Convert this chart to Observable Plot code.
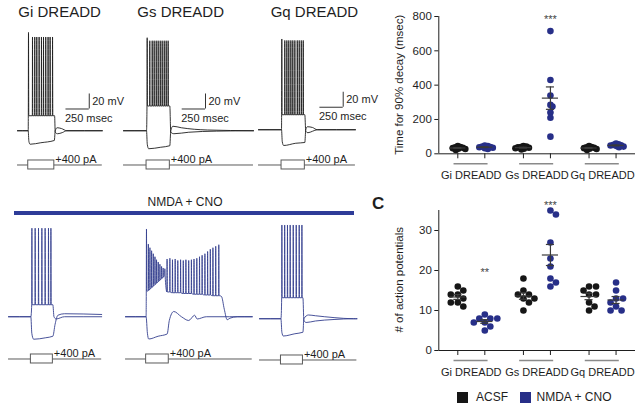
<!DOCTYPE html>
<html><head><meta charset="utf-8">
<script src="https://cdn.jsdelivr.net/npm/d3@7"></script>
<script src="https://cdn.jsdelivr.net/npm/@observablehq/plot@0.6"></script>
<style>
body{margin:0;background:#fff;font-family:"Liberation Sans",Arial,sans-serif;}
#root{position:relative;width:640px;height:406px;overflow:hidden;background:#fff;}
.pp{position:absolute;}
.lbl{position:absolute;white-space:nowrap;color:#1e1e1e;}
</style></head><body><div id="root"></div>
<script>
// ================= DATA =================
const dreadds = ["Gi DREADD", "Gs DREADD", "Gq DREADD"];
const conditions = ["ACSF", "NMDA + CNO"];
const stepCurrent = 400;        // pA
const scaleMv = 20, scaleMs = 250;

// B: time for 90% decay (msec), per DREADD
const decayACSF = [[22, 28, 30, 33, 35, 38, 40, 45], [25, 30, 32, 35, 38, 40, 42, 45], [22, 28, 30, 33, 35, 38, 40, 45]];
const decayNMDA = [[28, 32, 35, 38, 40, 42, 45, 48], [715, 430, 340, 285, 275, 240, 210, 100], [38, 42, 45, 48, 50, 52, 55, 60]];
const decayTicks = [0, 200, 400, 600, 800];
const decaySig = [{d: 1, c: 1, text: "***", v: 800}];

// C: number of action potentials
const apACSF = [[16, 15, 14, 14, 13, 12, 12, 11], [18, 15, 14, 14, 13, 13, 12, 10], [16, 16, 15, 14, 14, 12, 11, 10]];
const apNMDA = [[9, 8, 8, 8, 7, 7, 6, 5], [35, 34, 27, 23, 21, 18, 17, 16], [17, 15, 13, 13, 12, 11, 10, 10]];
const apTicks = [0, 10, 20, 30];
const apSig = [{d: 0, c: 1, text: "**", v: 20.3}, {d: 1, c: 1, text: "***", v: 37}];

// Traces (ms, mV). Resting potential:
const restMv = -70;
// ACSF row
const giAcsfStep = [115, 395], giAcsfEnd = 910;
const giAcsfSpikeT = [118, 161, 185, 207, 232, 257, 279, 303, 328, 350, 376];
const giAcsfSpikeV = [61, 55, 55, 55, 55, 55, 55, 55, 55, 55, 55];
const giAcsfTrough = -50;
const giAcsfTail = [[398, -50], [405, -72], [430, -74], [480, -72.5], [530, -70], [910, -70]];
const giAcsfHyp = [[0, -70], [115, -70], [122, -84], [135, -88], [250, -86], [395, -83], [405, -70], [425, -66], [470, -67], [530, -70], [910, -70]];

const gsAcsfStep = [247, 497], gsAcsfEnd = 1395;
const gsAcsfSpikeT = [254, 282, 308, 329, 351, 372, 394, 415, 437, 458, 479];
const gsAcsfSpikeV = [54, 50, 50, 50, 50, 50, 50, 50, 50, 50, 50];
const gsAcsfTrough = -37;
const gsAcsfTail = [[497, -37], [507, -72], [540, -74], [700, -72], [1000, -70.5], [1395, -70]];
const gsAcsfHyp = [[0, -70], [247, -70], [255, -88], [270, -94], [400, -92], [497, -90], [507, -70], [530, -64], [620, -66], [900, -69], [1395, -70]];

const gqAcsfStep = [247, 497], gqAcsfEnd = 1040;
const gqAcsfSpikeT = [250, 282, 304, 325, 347, 368, 390, 416, 437, 459, 480];
const gqAcsfSpikeV = [51, 49, 49, 49, 49, 49, 49, 49, 49, 49, 49];
const gqAcsfTrough = -50;
const gqAcsfTail = [[497, -50], [507, -72], [530, -74], [580, -72], [630, -70], [1040, -70]];
const gqAcsfHyp = [[0, -70], [247, -70], [255, -86], [270, -91], [400, -88], [497, -87], [507, -70], [525, -66], [580, -67], [630, -70], [1040, -70]];

// NMDA + CNO row
const giNmdaStep = [240, 476], giNmdaEnd = 1000;
const giNmdaSpikeT = [251, 286, 322, 358, 393, 429, 455];
const giNmdaSpikeV = [48, 48, 48, 48, 48, 48, 48];
const giNmdaTrough = -54;
const giNmdaTail = [[476, -54], [488, -70], [510, -73], [600, -70], [1000, -70]];
const giNmdaHyp = [[0, -70], [240, -70], [250, -92], [270, -100], [400, -98], [476, -96], [500, -80], [530, -68], [600, -66], [1000, -67]];

const gsNmdaStep = [221, 464], gsNmdaEnd = 1360;
const gsNmdaSpikeT = [225, 245, 262, 280, 298, 316, 333, 351, 369, 387, 404, 422, 446, 476, 504, 533, 561, 591, 620, 648, 678, 707, 735, 765, 794, 822, 852, 881, 910, 938, 968, 1001];
const gsNmdaSpikeV = [47, 27, 22, 18, 14, 10, 6, 3, 0, -3, -5, -6, 7, 8, 6, 7, 5, 6, 5, 6, 5, 6, 7, 8, 10, 12, 14, 17, 20, 22, 24, 26];
const gsNmdaTrough = [-36, -35, -33, -31, -29, -27, -25, -23, -21, -19, -17, -15, -37, -37, -38, -38, -38, -38, -39, -39, -39, -39, -40, -40, -40, -40, -41, -41, -41, -42, -42, -42];
const gsNmdaTail = [[1010, -42], [1030, -43], [1060, -60], [1091, -74], [1120, -72], [1200, -70], [1360, -70]];
const gsNmdaHyp = [[0, -70], [221, -70], [235, -92], [249, -99.7], [350, -96], [447, -93], [470, -75], [518, -63], [600, -70], [678, -75], [742, -68], [768, -73], [867, -70], [1360, -70]];

const gqNmdaStep = [230, 466], gqNmdaEnd = 1045;
const gqNmdaSpikeT = [240, 270, 300, 329, 362, 394, 426, 455];
const gqNmdaSpikeV = [55, 55, 55, 55, 55, 55, 55, 55];
const gqNmdaTrough = -42;
const gqNmdaTail = [[466, -42], [476, -72], [500, -75], [600, -73], [800, -71], [1010, -70], [1045, -70]];
const gqNmdaHyp = [[0, -70], [230, -70], [240, -88], [255, -93], [380, -90], [466, -88], [476, -70], [525, -65], [600, -66], [800, -68.5], [1010, -70], [1045, -70]];

// ================= LAYOUT / STYLE =================
const FONT = "'Liberation Sans', Arial, sans-serif";
const INK = "#1e1e1e";
const BLUE_TRACE = "#34408f";
const BLUE_DOT = "#272f88";
const BLUE_BAR = "#2e3c98";
const root = document.getElementById("root");
const PX_MS = 23.3 / 250;  // px per ms
const PX_MV = 0.75;        // px per mV
const V_DOM = [-105, 65];

function place(node, left, top) {
  const d = document.createElement("div");
  d.className = "pp"; d.style.left = left + "px"; d.style.top = top + "px";
  d.appendChild(node); root.appendChild(d);
}
function label(text, left, top, size, extra = "") {
  const d = document.createElement("div");
  d.className = "lbl"; d.textContent = text;
  d.style.cssText += `left:${left}px;top:${top}px;font-size:${size}px;line-height:${size}px;${extra}`;
  root.appendChild(d); return d;
}
function vLabel(text, cx, cy, size) {
  const w = 200;
  label(text, cx - w / 2, cy - size / 2, size, `width:${w}px;text-align:center;transform:rotate(-90deg);transform-origin:50% 50%;`);
}
function depTrace(stepStart, spikeT, spikeV, trough, tail) {
  const tr = i => Array.isArray(trough) ? trough[i] : trough;
  const pts = [[0, restMv], [stepStart, restMv]];
  spikeT.forEach((t, i) => pts.push([t - 2, tr(i)], [t, spikeV[i]], [t + 3, tr(i)]));
  return pts.concat(tail);
}
const svgStyle = `font-family:${FONT};font-size:11px;overflow:visible;background:transparent;color:${INK};`;

function tracePanel(p) {
  const w = p.tEnd * PX_MS;
  const H = (V_DOM[1] - V_DOM[0]) * PX_MV;
  const marks = [
    Plot.line(p.hyp, {x: d => d[0], y: d => d[1], stroke: p.color, strokeWidth: 0.9, curve: "monotone-x"}),
    Plot.line(p.dep, {x: d => d[0], y: d => d[1], stroke: p.color, strokeWidth: 0.9, curve: "monotone-x"})
  ];
  if (p.bar) {
    const b = [p.bar];
    marks.push(
      Plot.ruleX(b, {x: "t", y1: "v", y2: d => d.v + scaleMv, stroke: "#333", strokeWidth: 1}),
      Plot.ruleY(b, {y: "v", x1: d => d.t - scaleMs, x2: "t", stroke: "#333", strokeWidth: 1}),
      Plot.text(b, {x: "t", y: d => d.v + scaleMv / 2, text: () => `${scaleMv} mV`, textAnchor: "start", dx: 3, fontSize: 11, fill: INK}),
      Plot.text(b, {x: d => d.t - scaleMs, y: "v", text: () => `${scaleMs} msec`, textAnchor: "start", dx: -1, dy: 9, fontSize: 11, fill: INK})
    );
  }
  const plot = Plot.plot({
    width: w + 45, height: H,
    marginLeft: 0, marginRight: 45, marginTop: 0, marginBottom: 0,
    x: {domain: [0, p.tEnd], range: [0, w], axis: null},
    y: {domain: V_DOM, range: [H, 0], axis: null},
    style: svgStyle,
    marks
  });
  const yRest = H - (restMv - V_DOM[0]) * PX_MV;
  place(plot, p.left, p.base - yRest);

  // current step schematic
  const cur = Plot.plot({
    width: w + 45, height: 26,
    marginLeft: 0, marginRight: 45, marginTop: 15, marginBottom: 2,
    x: {domain: [0, p.tEnd], range: [0, w], axis: null},
    y: {domain: [-1, 1], axis: null},
    style: svgStyle,
    marks: [
      Plot.ruleY([0], {x1: 0, x2: p.tEnd, stroke: "#5a5a5a", strokeWidth: 1}),
      Plot.rect([p.step], {x1: d => d[0], x2: d => d[1], y1: -1, y2: 1, fill: "white", stroke: "#5a5a5a", strokeWidth: 1}),
      Plot.text([p.step], {x: d => d[1], y: 0, text: () => `+${stepCurrent} pA`, textAnchor: "start", lineAnchor: "bottom", dx: 1, dy: -1.5, fontSize: 11, fill: INK})
    ]
  });
  place(cur, p.left, p.currentY - 19.5);
}

const tracePanels = [
  {left: 16.7, base: 130, currentY: 164, tEnd: giAcsfEnd, step: giAcsfStep, color: INK,
   dep: depTrace(giAcsfStep[0], giAcsfSpikeT, giAcsfSpikeV, giAcsfTrough, giAcsfTail), hyp: giAcsfHyp, bar: {t: 770, v: -41}},
  {left: 123, base: 130, currentY: 164, tEnd: gsAcsfEnd, step: gsAcsfStep, color: INK,
   dep: depTrace(gsAcsfStep[0], gsAcsfSpikeT, gsAcsfSpikeV, gsAcsfTrough, gsAcsfTail), hyp: gsAcsfHyp, bar: {t: 880, v: -41}},
  {left: 258, base: 129, currentY: 164, tEnd: gqAcsfEnd, step: gqAcsfStep, color: INK,
   dep: depTrace(gqAcsfStep[0], gqAcsfSpikeT, gqAcsfSpikeV, gqAcsfTrough, gqAcsfTail), hyp: gqAcsfHyp, bar: {t: 909, v: -40}},
  {left: 8.3, base: 316.7, currentY: 358, tEnd: giNmdaEnd, step: giNmdaStep, color: BLUE_TRACE,
   dep: depTrace(giNmdaStep[0], giNmdaSpikeT, giNmdaSpikeV, giNmdaTrough, giNmdaTail), hyp: giNmdaHyp},
  {left: 125, base: 316, currentY: 358, tEnd: gsNmdaEnd, step: gsNmdaStep, color: BLUE_TRACE,
   dep: depTrace(gsNmdaStep[0], gsNmdaSpikeT, gsNmdaSpikeV, gsNmdaTrough, gsNmdaTail), hyp: gsNmdaHyp},
  {left: 259.3, base: 318.3, currentY: 359, tEnd: gqNmdaEnd, step: gqNmdaStep, color: BLUE_TRACE,
   dep: depTrace(gqNmdaStep[0], gqNmdaSpikeT, gqNmdaSpikeV, gqNmdaTrough, gqNmdaTail), hyp: gqNmdaHyp}
];
tracePanels.forEach(tracePanel);

// ---- scatter panels ----
const pairGap = 2.43;
const X_DOM = [-0.704, 6.58];
const catX = (d, c) => d * pairGap + c;

function swarmOffsets(pys, dist) {
  const order = pys.map((_, i) => i).sort((a, b) => pys[a] - pys[b]);
  const placed = [], off = new Array(pys.length).fill(0);
  for (const i of order) {
    for (let k = 0; k < 400; k++) {
      const o = (k % 2 === 1 ? 1 : -1) * Math.ceil(k / 2) * 0.5;
      if (placed.every(p => (p.x - o) ** 2 + (p.y - pys[i]) ** 2 >= dist * dist)) {
        off[i] = o; placed.push({x: o, y: pys[i]}); break;
      }
    }
  }
  return off;
}

function scatterPanel(cfg) {
  const W = 250, ML = 48.3, MR = 5;
  const {MT, FH, MB, yMax} = cfg;
  const H = MT + FH + MB;
  const pxPerU = (W - ML - MR) / (X_DOM[1] - X_DOM[0]);
  const yPx = v => MT + FH * (1 - v / yMax);
  const pts = [], stats = [];
  dreadds.forEach((name, d) => {
    [cfg.acsf[d], cfg.nmda[d]].forEach((vals, c) => {
      const offs = swarmOffsets(vals.map(yPx), cfg.collide);
      vals.forEach((v, i) => pts.push({x: catX(d, c) + offs[i] / pxPerU, v, c}));
      const m = d3.mean(vals), s = d3.deviation(vals) / Math.sqrt(vals.length);
      stats.push({x: catX(d, c), m, lo: m - s, hi: m + s});
    });
  });
  const groups = dreadds.map((name, d) => ({name, a: catX(d, 0), b: catX(d, 1)}));
  const tickXs = [];
  dreadds.forEach((_, d) => conditions.forEach((_, c) => tickXs.push(catX(d, c))));
  const sig = cfg.sig.map(s => ({...s, x: catX(s.d, s.c)}));
  const plot = Plot.plot({
    width: W, height: H, marginLeft: ML, marginRight: MR, marginTop: MT, marginBottom: MB,
    x: {domain: X_DOM}, y: {domain: [0, yMax], label: null},
    style: svgStyle,
    marks: [
      Plot.ruleX([X_DOM[0]], {y1: 0, y2: yMax, stroke: INK, strokeWidth: 1}),
      Plot.ruleY([0], {x1: X_DOM[0], x2: X_DOM[1], stroke: INK, strokeWidth: 1}),
      Plot.axisY({ticks: cfg.ticks, tickSize: 4, tickPadding: 3, fontSize: 11.5, label: null, stroke: INK, fill: INK}),
      Plot.axisX({ticks: tickXs, tickSize: 5, tickFormat: () => "", label: null, stroke: INK}),
      Plot.ruleY(groups, {y: 0, x1: g => g.a - 0.14, x2: g => g.b + 0.12, dy: 10, stroke: "#8a8a8a", strokeWidth: 1.4}),
      Plot.text(groups, {x: g => (g.a + g.b) / 2, y: 0, text: "name", dy: 21.7, fontSize: 11, fill: INK}),
      Plot.dot(pts, {x: "x", y: "v", r: 3.3, fill: p => p.c ? BLUE_DOT : "#161616", stroke: "none"}),
      Plot.ruleY(stats, {y: "m", x1: s => s.x - 0.3, x2: s => s.x + 0.3, stroke: "#3a3a3a", strokeWidth: 1.2}),
      Plot.ruleX(stats, {x: "x", y1: "lo", y2: "hi", stroke: "#3a3a3a", strokeWidth: 1.2}),
      Plot.ruleY(stats, {y: "lo", x1: s => s.x - 0.15, x2: s => s.x + 0.15, stroke: "#3a3a3a", strokeWidth: 1.2}),
      Plot.ruleY(stats, {y: "hi", x1: s => s.x - 0.15, x2: s => s.x + 0.15, stroke: "#3a3a3a", strokeWidth: 1.2}),
      Plot.text(sig, {x: "x", y: "v", text: "text", dy: 3, fontSize: 11, fill: "#444"})
    ]
  });
  place(plot, cfg.left, cfg.top);
  vLabel(cfg.label, 399.5, cfg.top + MT + FH / 2, 11.5);
}

scatterPanel({left: 390, top: 0, MT: 16, FH: 137.3, MB: 30.7, yMax: 800, ticks: decayTicks,
  acsf: decayACSF, nmda: decayNMDA, sig: decaySig, collide: 2.6, label: "Time for 90% decay (msec)"});
scatterPanel({left: 390, top: 190, MT: 20, FH: 140, MB: 30, yMax: 35, ticks: apTicks,
  acsf: apACSF, nmda: apNMDA, sig: apSig, collide: 6.6, label: "# of action potentials"});

// ---- text annotations ----
label(dreadds[0], 18.3, 4, 15);
label(dreadds[1], 137.3, 4, 15);
label(dreadds[2], 270.7, 4, 15);
label(conditions[1], 0, 195.8, 12, "width:370px;text-align:center;");
const bar = document.createElement("div");
bar.style.cssText = `position:absolute;left:14px;top:211px;width:340px;height:4px;background:${BLUE_BAR};`;
root.appendChild(bar);
label("C", 372, 194.7, 17, "font-weight:bold;");
// legend
[[conditions[0], "#161616", 457, 476], [conditions[1], BLUE_DOT, 519.5, 536.5]].forEach(([t, col, sx, tx]) => {
  const s = document.createElement("div");
  s.style.cssText = `position:absolute;left:${sx}px;top:391.5px;width:11px;height:11px;background:${col};`;
  root.appendChild(s);
  label(t, tx, 391.1, 12);
});
</script></body></html>
